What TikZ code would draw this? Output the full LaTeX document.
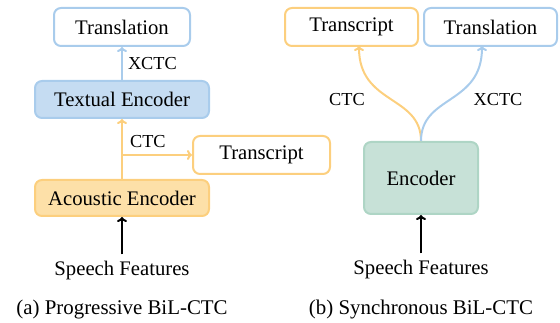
\documentclass[tikz,border=0pt]{standalone}
\usepackage{fontspec}
\setmainfont{Liberation Serif}
\usetikzlibrary{arrows.meta}
\definecolor{orB}{HTML}{FCCF7E}
\definecolor{orF}{HTML}{FDE0A8}
\definecolor{blB}{HTML}{A9CCEC}
\definecolor{blF}{HTML}{C5DCF2}
\definecolor{grB}{HTML}{AED5C5}
\definecolor{grF}{HTML}{C7E1D7}
\tikzset{
  box/.style={draw, line width=2pt, rounded corners=7pt, inner sep=0pt, align=center,
    font=\fontsize{20.7}{24}\selectfont},
  lab/.style={inner sep=0pt, font=\fontsize{18.3}{22}\selectfont},
  txt/.style={inner sep=0pt, font=\fontsize{20.7}{24}\selectfont},
  captxt/.style={inner sep=0pt, font=\fontsize{20.9}{24}\selectfont},
  conn/.style={line width=2pt, -{To[length=5pt,width=10pt]}},
  blk/.style={line width=2pt, black, -{To[length=5pt,width=10pt]}}
}
\begin{document}
\begin{tikzpicture}[x=1pt,y=-1pt]
\useasboundingbox (0,0) rectangle (560,323);
% left panel
\node[box, draw=blB, fill=white, minimum width=136pt, minimum height=38pt] (trl) at (122,27) {Translation};
\node[box, draw=blB, fill=blF, minimum width=174pt, minimum height=37pt] (te) at (122,99.5) {Textual Encoder};
\node[box, draw=orB, fill=white, minimum width=137pt, minimum height=38pt] (tsl) at (261.5,155) {Transcript};
\node[box, draw=orB, fill=orF, minimum width=174pt, minimum height=36pt] (ae) at (122,198) {Acoustic Encoder};
\node[txt] (sfl) at (122,271) {Speech Features};
\node[captxt] (capa) at (122,310) {(a) Progressive BiL-CTC};
\coordinate (br) at (122,155);
\draw[conn, draw=blB] (te.north) -- (trl.south) node[lab, midway, right=5pt] (xl) {XCTC};
\draw[conn, draw=orB] (ae.north) -- (te.south);
\draw[conn, draw=orB] (br) -- (tsl.west) node[lab, pos=0.37, above=6pt] (cl) {CTC};
\draw[blk, shorten <=7pt] (sfl.north) -- (ae.south);
% right panel
\node[box, draw=orB, fill=white, minimum width=133pt, minimum height=38pt] (tsr) at (351.5,27) {Transcript};
\node[box, draw=blB, fill=white, minimum width=133pt, minimum height=38pt] (trr) at (490.5,27) {Translation};
\node[box, draw=grB, fill=grF, minimum width=114pt, minimum height=72pt] (enc) at (421,178) {Encoder};
\node[txt] (sfr) at (421,270) {Speech Features};
\node[captxt] (capb) at (421,310) {(b) Synchronous BiL-CTC};
\coordinate (ts1) at (359,46);
\coordinate (tr1) at (482,46);
\draw[conn, draw=orB] (enc.north) .. controls (421,95) and (359,105) .. (ts1);
\draw[conn, draw=blB] (enc.north) .. controls (421,95) and (482,105) .. (tr1);
\node[lab] (cr) at (347,100) {CTC};
\node[lab] (xr) at (498,100) {XCTC};
\draw[blk, shorten <=7pt] (sfr.north) -- (enc.south);
\end{tikzpicture}
\end{document}
